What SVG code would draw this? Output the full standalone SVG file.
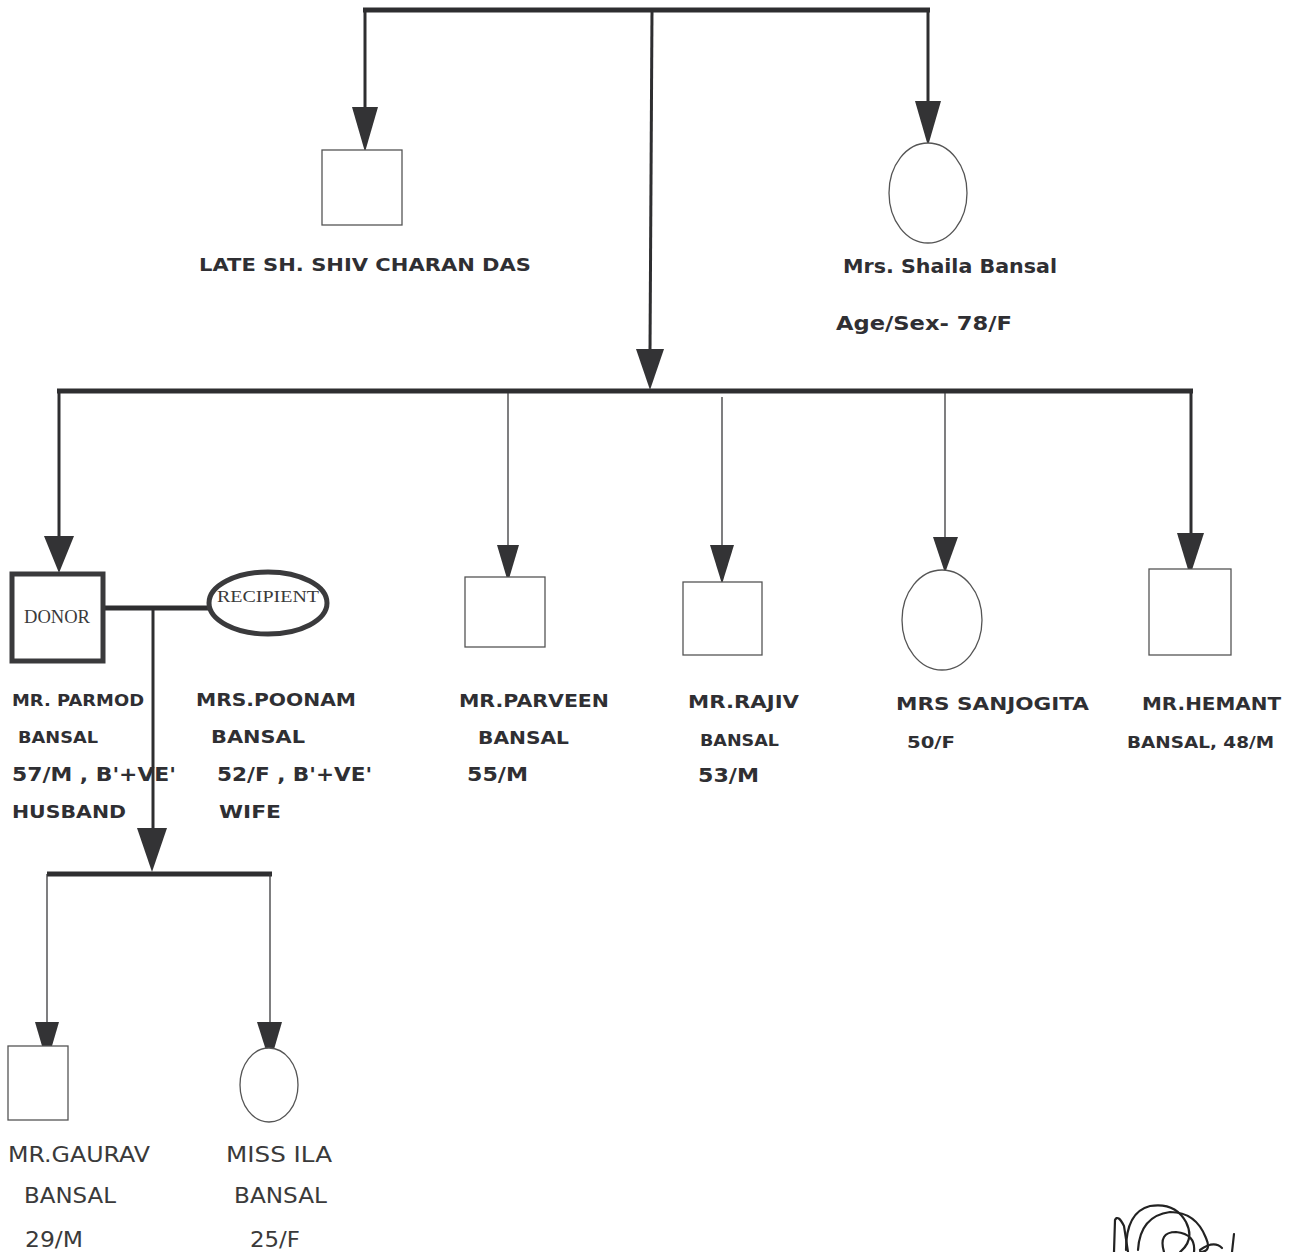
<svg xmlns="http://www.w3.org/2000/svg" width="1299" height="1252" viewBox="0 0 1299 1252">
<style>
.bg{fill:#ffffff}
.bar{stroke:#2e2e30;stroke-width:5;fill:none}
.thick{stroke:#2e2e30;stroke-width:3;fill:none}
.thin{stroke:#3a3a3c;stroke-width:1.3;fill:none}
.head{fill:#333335;stroke:none}
.shape{fill:#ffffff;stroke:#555;stroke-width:1.3}
.bold-shape{fill:#ffffff;stroke:#3a3a3c;stroke-width:5}
.t{font-family:"DejaVu Sans",Verdana,sans-serif;font-weight:bold;fill:#2f2f33}
.r{font-family:"DejaVu Sans",Verdana,sans-serif;font-weight:normal;fill:#3a3a3a}
.s{font-family:"Liberation Serif","Times New Roman",serif;fill:#3a3a3a}
.sig{fill:none;stroke:#222;stroke-width:2.2;stroke-linecap:round}
</style>
<rect class="bg" x="0" y="0" width="1299" height="1252"/>

<g id="connectors">
  <path class="bar" d="M363 10 H930"/>
  <path class="thick" d="M365 10 V110"/>
  <polygon class="head" points="352,107 378,107 365,152"/>
  <path class="thick" d="M928 10 V104"/>
  <polygon class="head" points="915,101 941,101 928,146"/>
  <path class="thick" d="M652 10 L650 352"/>
  <polygon class="head" points="636,349 664,349 650,390"/>
  <path class="bar" d="M57 391 H1193"/>
  <path class="thick" d="M59 391 V538"/>
  <polygon class="head" points="44,536 74,536 59,573"/>
  <path class="thin" d="M508 393 V548"/>
  <polygon class="head" points="497,545 519,545 508,582"/>
  <path class="thin" d="M722 397 V548"/>
  <polygon class="head" points="710,545 734,545 722,584"/>
  <path class="thin" d="M945 393 V540"/>
  <polygon class="head" points="933,537 958,537 945,573"/>
  <path class="thick" d="M1191 391 V536"/>
  <polygon class="head" points="1177,533 1204,533 1190,576"/>
  <path class="bar" d="M104 608 H212"/>
  <path class="thick" d="M153 608 V832"/>
  <polygon class="head" points="137,828 167,828 152,872"/>
  <path class="bar" d="M47 874 H272"/>
  <path class="thin" d="M47 874 V1025"/>
  <polygon class="head" points="35,1022 59,1022 47,1063"/>
  <path class="thin" d="M270 874 V1025"/>
  <polygon class="head" points="257,1022 282,1022 270,1063"/>
</g>

<g id="node-shiv-charan-das">
  <rect class="shape" x="322" y="150" width="80" height="75"/>
  <text class="t" x="199" y="271" font-size="18.5" textLength="332" lengthAdjust="spacingAndGlyphs">LATE SH. SHIV CHARAN DAS</text>
</g>

<g id="node-shaila-bansal">
  <ellipse class="shape" cx="928" cy="193" rx="39" ry="50"/>
  <text class="t" x="843" y="273" font-size="19" textLength="214" lengthAdjust="spacingAndGlyphs">Mrs. Shaila Bansal</text>
  <text class="t" x="836" y="330" font-size="19" textLength="176" lengthAdjust="spacingAndGlyphs">Age/Sex- 78/F</text>
</g>

<g id="node-parmod-bansal">
  <rect class="bold-shape" x="12" y="574" width="91" height="87"/>
  <text class="s" x="57" y="623" font-size="18" text-anchor="middle" textLength="66" lengthAdjust="spacingAndGlyphs">DONOR</text>
  <text class="t" x="12" y="706" font-size="16" textLength="132" lengthAdjust="spacingAndGlyphs">MR. PARMOD</text>
  <text class="t" x="18" y="743" font-size="15" textLength="80" lengthAdjust="spacingAndGlyphs">BANSAL</text>
  <text class="t" x="12" y="781" font-size="19" textLength="164" lengthAdjust="spacingAndGlyphs">57/M , B'+VE'</text>
  <text class="t" x="12" y="818" font-size="18" textLength="114" lengthAdjust="spacingAndGlyphs">HUSBAND</text>
</g>

<g id="node-poonam-bansal">
  <ellipse class="bold-shape" cx="268" cy="603" rx="59" ry="31"/>
  <text class="s" x="268" y="602" font-size="17" text-anchor="middle" textLength="102" lengthAdjust="spacingAndGlyphs">RECIPIENT</text>
  <text class="t" x="196" y="706" font-size="18" textLength="160" lengthAdjust="spacingAndGlyphs">MRS.POONAM</text>
  <text class="t" x="211" y="743" font-size="18" textLength="94" lengthAdjust="spacingAndGlyphs">BANSAL</text>
  <text class="t" x="217" y="781" font-size="19" textLength="155" lengthAdjust="spacingAndGlyphs">52/F , B'+VE'</text>
  <text class="t" x="219" y="818" font-size="18" textLength="62" lengthAdjust="spacingAndGlyphs">WIFE</text>
</g>

<g id="node-parveen-bansal">
  <rect class="shape" x="465" y="577" width="80" height="70"/>
  <text class="t" x="459" y="707" font-size="18" textLength="150" lengthAdjust="spacingAndGlyphs">MR.PARVEEN</text>
  <text class="t" x="478" y="744" font-size="18" textLength="91" lengthAdjust="spacingAndGlyphs">BANSAL</text>
  <text class="t" x="467" y="781" font-size="19" textLength="61" lengthAdjust="spacingAndGlyphs">55/M</text>
</g>

<g id="node-rajiv-bansal">
  <rect class="shape" x="683" y="582" width="79" height="73"/>
  <text class="t" x="688" y="708" font-size="18" textLength="111" lengthAdjust="spacingAndGlyphs">MR.RAJIV</text>
  <text class="t" x="700" y="746" font-size="15" textLength="79" lengthAdjust="spacingAndGlyphs">BANSAL</text>
  <text class="t" x="698" y="782" font-size="19" textLength="61" lengthAdjust="spacingAndGlyphs">53/M</text>
</g>

<g id="node-sanjogita">
  <ellipse class="shape" cx="942" cy="620" rx="40" ry="50"/>
  <text class="t" x="896" y="710" font-size="18" textLength="193" lengthAdjust="spacingAndGlyphs">MRS SANJOGITA</text>
  <text class="t" x="907" y="748" font-size="15" textLength="48" lengthAdjust="spacingAndGlyphs">50/F</text>
</g>

<g id="node-hemant-bansal">
  <rect class="shape" x="1149" y="569" width="82" height="86"/>
  <text class="t" x="1142" y="710" font-size="18" textLength="139" lengthAdjust="spacingAndGlyphs">MR.HEMANT</text>
  <text class="t" x="1127" y="748" font-size="15" textLength="147" lengthAdjust="spacingAndGlyphs">BANSAL, 48/M</text>
</g>

<g id="node-gaurav-bansal">
  <rect class="shape" x="8" y="1046" width="60" height="74"/>
  <text class="r" x="8" y="1162" font-size="22" textLength="142" lengthAdjust="spacingAndGlyphs">MR.GAURAV</text>
  <text class="r" x="24" y="1203" font-size="22" textLength="92" lengthAdjust="spacingAndGlyphs">BANSAL</text>
  <text class="r" x="25" y="1247" font-size="22" textLength="58" lengthAdjust="spacingAndGlyphs">29/M</text>
</g>

<g id="node-ila-bansal">
  <ellipse class="shape" cx="269" cy="1085" rx="29" ry="37"/>
  <text class="r" x="226" y="1162" font-size="22" textLength="106" lengthAdjust="spacingAndGlyphs">MISS ILA</text>
  <text class="r" x="234" y="1203" font-size="22" textLength="93" lengthAdjust="spacingAndGlyphs">BANSAL</text>
  <text class="r" x="250" y="1247" font-size="22" textLength="50" lengthAdjust="spacingAndGlyphs">25/F</text>
</g>

<g id="signature">
  <path class="sig" d="M1114 1252 L1115 1220 Q1118 1214 1124 1226 L1128 1252"/>
  <path class="sig" d="M1126 1250 Q1126 1212 1150 1206 Q1175 1202 1186 1222 Q1195 1240 1180 1252"/>
  <path class="sig" d="M1138 1250 Q1140 1216 1170 1212 Q1196 1212 1206 1238 Q1212 1252 1200 1252"/>
  <path class="sig" d="M1164 1252 Q1158 1232 1176 1232 Q1196 1234 1194 1252"/>
  <path class="sig" d="M1200 1250 Q1214 1240 1222 1248"/>
  <path class="sig" d="M1234 1234 L1232 1252"/>
</g>
</svg>
